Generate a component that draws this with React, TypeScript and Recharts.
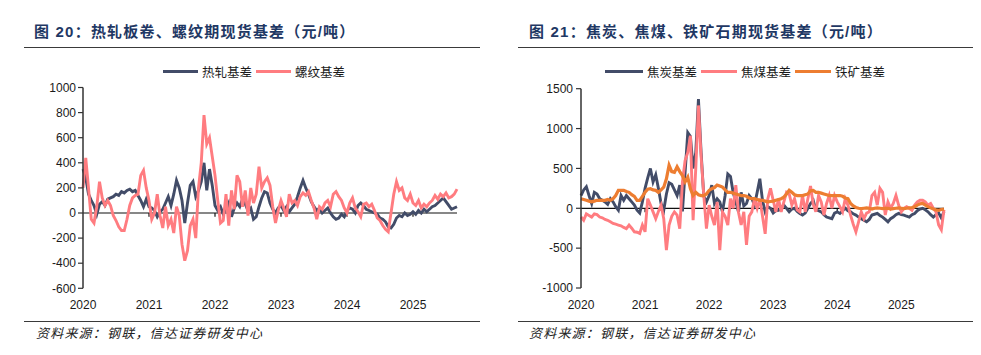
import React from "react";
import { LineChart, Line, XAxis, YAxis, ReferenceLine } from "recharts";

// semi-monthly observations from Jan 2020 to Sep 2025
const START_YEAR = 2020;
const PER_YEAR = 24;
const yearTicks = [2020, 2021, 2022, 2023, 2024, 2025];

// 图20: 热轧基差 / 螺纹基差 (元/吨)
const hrcBasis = [
  350, 280, 150, 100, 60, -10, 70, 90, 60, 110, 120, 130, 150, 140, 170, 160, 180, 190, 170, 180, 140, 100, 50, 110,
  50, 40, 20, -30, 10, 30, 80, 130, 60, 150, 260, 200, 100, -80, 80, 220, 250, 130, 180, 250, 400, 180, 350, 220,
  60, 20, 50, -10, 30, 80, -30, 40, 80, 50, 110, 70, 20, 40, -50, -30, 50, 120, 170, 160, 80, 30, 0, 40,
  60, 20, 50, 10, 40, 70, 130, 200, 260, 200, 150, 90, 50, 20, 40, 0, 20, 40, 0, -30, -50, -40, -10, -30,
  20, 40, 30, 0, 60, 80, 60, 30, 20, 10, 0, -10, -40, -50, -70, -110, -120, -90, -40, -20, -30, 0, -20, -10,
  10, -10, 20, 0, 30, 10, 30, 50, 60, 80, 100, 120, 90, 60, 30, 40, 50,
];
const rebarBasis = [
  200, 440, 200, -50, -80, 50, 250, 120, 60, 100, 60, -20, -60, -110, -140, -140, -50, 60, 120, 140, 150, 300, 340, 200,
  100, -50, 0, 150, -20, -120, 50, -100, -50, -160, 50, -20, -250, -380, -300, -100, -50, -200, 200, 400, 780, 550, 600, 450,
  300, 100, -80, -60, 150, -100, 180, 30, 300, 250, 50, 180, -20, 200, 80, 150, 370, 200, 250, 280, 220, 50, -80, 20,
  100, 40, -30, 150, 80, 100, 60, 130, 160, 140, 170, 100, 40, -50, 50, 30, 80, 100, 50, 150, 170, 130, 100, 40,
  0, 80, 120, 40, 10, -30, 70, 80, 50, 70, 20, -40, -60, -100, -130, -150, 0, 150, 250, 180, 200, 120, 100, 150,
  80, 60, 100, 40, 70, 50, 80, 100, 140, 110, 150, 130, 160, 120, 130, 150, 190,
];

// 图21: 焦炭基差 / 焦煤基差 / 铁矿基差 (元/吨)
const cokeBasis = [
  160, 230, 270, 160, 60, 200, 180, 120, 100, 80, 50, 120, 80, 20, -25, 160, 100, 160, 120, 80, 40, -25, -60, 80,
  250, 380, 500, 330, 420, 250, 60, -25, 180, 320, 300, 230, 160, 290, -40, 450, 950, 900, 500, 700, 1370, 700, 150, 80,
  160, 290, 60, 120, 80, -45, 160, 430, 400, 200, 80, -45, 200, 30, 60, 160, 120, 40, 200, 370, 100, -45, 20, 0,
  -60, -30, -25, 10, 40, 0, -45, -10, 0, -40, -65, -85, -60, 0, 60, 100, -25, -30, -45, -80, -110, -120, -130, -60,
  -45, -65, -30, 0, -30, -45, -70, -85, -110, -130, -150, -170, -140, -85, -75, -65, -90, -110, -140, -170, -130, -110, -80, -65,
  -80, -85, -100, -110, -80, -65, -30, -10, 0, -20, -45, -80, -110, -80, -60, -120, -40,
];
const cokingCoalBasis = [
  -110, -150, -70, -90, -110, -70, -80, -110, -120, -140, -150, -170, -190, -200, -210, -220, -240, -255, -210, -250, -295, -300, -315, -210,
  -295, 120, 40, -45, -130, -40, 40, -130, -525, -210, -100, -45, -85, -255, 330, 600, 700, 910, -150, 500, 1290, 650, 160, -255,
  40, -100, -210, 80, -525, -45, -100, -210, 120, 0, 290, -50, -210, -45, -460, -100, -45, 120, 0, 120, -100, -320, 120, 250,
  100, -45, 120, -45, 80, 200, 180, 40, 120, -20, -45, 160, -45, 120, 280, 50, -45, 160, 80, -85, 60, 160, 0, 160,
  80, 20, -45, 120, 40, -85, -200, -295, -170, -45, -130, -60, -45, 160, 200, 40, 250, 200, -85, 80, 0, 60, 160, 40,
  -45, 0, 20, 0, -25, 40, 80, 100, 100, 80, 40, 60, 0, -45, -210, -270, -20,
];
const ironOreBasis = [
  120, 110, 100, 90, 80, 90, 100, 100, 100, 100, 110, 100, 120, 160, 225, 225, 225, 210, 200, 170, 150, 100, 100, 150,
  200, 240, 245, 230, 225, 200, 230, 265, 370, 540, 460, 450, 520, 460, 410, 330, 390, 245, 160, 200, 170, 160, 160, 180,
  225, 245, 260, 290, 280, 265, 230, 200, 200, 190, 180, 170, 160, 160, 150, 130, 120, 120, 110, 100, 100, 90, 80, 85,
  90, 100, 110, 120, 140, 180, 225, 200, 170, 160, 160, 160, 170, 180, 220, 225, 200, 200, 190, 180, 170, 160, 160, 160,
  160, 160, 150, 130, 120, 60, 30, 10, 0, -5, 0, 5, 0, -10, 0, 5, 0, -5, 0, 0, -10, -5, 0, 5,
  0, -5, 0, 5, 10, 20, 40, 55, 60, 40, 20, 5, -10, -20, -25, -15, -10,
];

const leftTicks = [-600, -400, -200, 0, 200, 400, 600, 800, 1000];
const rightTicks = [-1000, -500, 0, 500, 1000, 1500];

const NAVY = "#424C68";
const PINK = "#FF7C80";
const ORANGE = "#ED7D31";

const leftData = hrcBasis.map((v, i) => ({ t: START_YEAR + i / PER_YEAR, hrc: v, rebar: rebarBasis[i] }));
const rightData = cokeBasis.map((v, i) => ({
  t: START_YEAR + i / PER_YEAR,
  coke: v,
  coal: cokingCoalBasis[i],
  ore: ironOreBasis[i],
}));
const xMax = START_YEAR + (hrcBasis.length - 1) / PER_YEAR;

const LATIN = "'Liberation Sans', Arial, sans-serif";
const CJK = "'Liberation Sans', 'Noto Sans CJK SC', sans-serif";

const axisTick = { fontSize: 12, fill: "#1a1a1a", fontFamily: LATIN };

function Legend({ items, left, top }: { items: { name: string; color: string; lineW: number }[]; left: number; top: number }) {
  return (
    <div style={{ position: "absolute", left, top, display: "flex", alignItems: "center", fontFamily: CJK, fontSize: 12.5, color: "#1a1a1a", whiteSpace: "nowrap" }}>
      {items.map((it) => (
        <div key={it.name} style={{ display: "flex", alignItems: "center", marginRight: 4 }}>
          <div style={{ width: it.lineW, height: 3, background: it.color, marginRight: 4 }} />
          <span>{it.name}</span>
        </div>
      ))}
    </div>
  );
}

function Title({ left, text, num }: { left: number; text: string; num: string }) {
  return (
    <div style={{ position: "absolute", left, top: 20, fontFamily: CJK, fontWeight: 700, fontSize: 15, letterSpacing: 1.2, color: "#1F3864", whiteSpace: "nowrap" }}>
      图 {num}：{text}
    </div>
  );
}

function Rule({ left, top, width }: { left: number; top: number; width: number }) {
  return <div style={{ position: "absolute", left, top, width, height: 0, borderTop: "1.5px solid #3a3a3a" }} />;
}

function Source({ left }: { left: number }) {
  return (
    <div style={{ position: "absolute", left, top: 323, fontFamily: CJK, fontStyle: "italic", fontSize: 13, letterSpacing: 1.2, color: "#222", whiteSpace: "nowrap" }}>
      资料来源：钢联，信达证券研发中心
    </div>
  );
}

export default function App() {
  return (
    <div style={{ position: "absolute", left: 0, top: 0, width: 981, height: 355, background: "#fff", overflow: "hidden" }}>
      <Title left={34} num="20" text="热轧板卷、螺纹期现货基差（元/吨）" />
      <Title left={529} num="21" text="焦炭、焦煤、铁矿石期现货基差（元/吨）" />
      <Rule left={24} top={47} width={456} />
      <Rule left={518} top={47} width={455} />
      <Rule left={24} top={321} width={456} />
      <Rule left={518} top={321} width={455} />
      <Source left={36} />
      <Source left={529} />

      <Legend
        left={163}
        top={62}
        items={[
          { name: "热轧基差", color: NAVY, lineW: 35 },
          { name: "螺纹基差", color: PINK, lineW: 35 },
        ]}
      />
      <Legend
        left={605}
        top={62}
        items={[
          { name: "焦炭基差", color: NAVY, lineW: 38 },
          { name: "焦煤基差", color: PINK, lineW: 36 },
          { name: "铁矿基差", color: ORANGE, lineW: 36 },
        ]}
      />

      <div style={{ position: "absolute", left: 0, top: 0 }}>
        <LineChart width={480} height={320} data={leftData} margin={{ top: 87.5, right: 23, left: 33, bottom: 1.7 }}>
          <XAxis
            dataKey="t"
            type="number"
            domain={[START_YEAR, xMax]}
            ticks={yearTicks}
            tickFormatter={(v: number) => String(Math.round(v))}
            axisLine={false}
            tickLine={false}
            tickSize={6}
            tickMargin={6}
            height={30}
            tick={axisTick}
            interval={0}
          />
          <YAxis
            type="number"
            domain={[-600, 1000]}
            ticks={leftTicks}
            width={50}
            axisLine={{ stroke: "#333", strokeWidth: 1.5 }}
            tickLine={{ stroke: "#333", strokeWidth: 1.2 }}
            tickSize={5}
            tickMargin={2}
            tick={axisTick}
            interval={0}
          />
          <ReferenceLine y={0} stroke="#111" strokeWidth={1.2} />
          {yearTicks.slice(1).map((yr) => (
            <ReferenceLine key={yr} segment={[{ x: yr, y: 0 }, { x: yr, y: -30 }]} stroke="#111" strokeWidth={1.2} />
          ))}
          <Line dataKey="hrc" stroke={NAVY} strokeWidth={2.9} dot={false} activeDot={false} isAnimationActive={false} type="linear" />
          <Line dataKey="rebar" stroke={PINK} strokeWidth={2.9} dot={false} activeDot={false} isAnimationActive={false} type="linear" />
        </LineChart>
      </div>

      <div style={{ position: "absolute", left: 490, top: 0 }}>
        <LineChart width={480} height={320} data={rightData} margin={{ top: 88.7, right: 26, left: 36, bottom: 2 }}>
          <XAxis
            dataKey="t"
            type="number"
            domain={[START_YEAR, xMax]}
            ticks={yearTicks}
            tickFormatter={(v: number) => String(Math.round(v))}
            axisLine={false}
            tickLine={false}
            tickSize={6}
            tickMargin={6}
            height={30}
            tick={axisTick}
            interval={0}
          />
          <YAxis
            type="number"
            domain={[-1000, 1500]}
            ticks={rightTicks}
            width={55}
            axisLine={{ stroke: "#333", strokeWidth: 1.5 }}
            tickLine={{ stroke: "#333", strokeWidth: 1.2 }}
            tickSize={5}
            tickMargin={3}
            tick={axisTick}
            interval={0}
          />
          <ReferenceLine y={0} stroke="#111" strokeWidth={1.2} />
          {yearTicks.slice(1).map((yr) => (
            <ReferenceLine key={yr} segment={[{ x: yr, y: 0 }, { x: yr, y: -50 }]} stroke="#111" strokeWidth={1.2} />
          ))}
          <Line dataKey="coke" stroke={NAVY} strokeWidth={2.9} dot={false} activeDot={false} isAnimationActive={false} type="linear" />
          <Line dataKey="coal" stroke={PINK} strokeWidth={2.9} dot={false} activeDot={false} isAnimationActive={false} type="linear" />
          <Line dataKey="ore" stroke={ORANGE} strokeWidth={3.2} dot={false} activeDot={false} isAnimationActive={false} type="linear" />
        </LineChart>
      </div>
    </div>
  );
}
